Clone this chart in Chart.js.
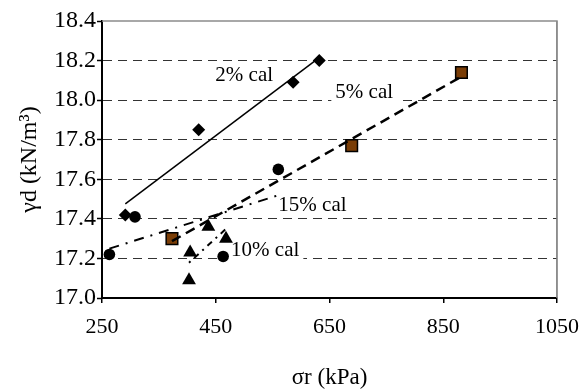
<!DOCTYPE html>
<html>
<head>
<meta charset="utf-8">
<script src="https://cdn.jsdelivr.net/npm/chart.js@4/dist/chart.umd.min.js"></script>
<style>
  body { margin: 0; background: #fff; }
</style>
</head>
<body>
<canvas id="grafico" width="580" height="392"></canvas>
<script>
// Datos (sigma_r en kPa, gamma_d en kN/m3)
const sigma2 = [291, 420, 586, 632];
const gamma2 = [17.42, 17.85, 18.09, 18.20];

const sigma5 = [373, 689, 882];
const gamma5 = [17.30, 17.77, 18.14];

const sigma10 = [403, 405, 437, 468];
const gamma10 = [17.09, 17.23, 17.36, 17.30];

const sigma15 = [263, 308, 463, 560];
const gamma15 = [17.22, 17.41, 17.21, 17.65];

const xTicks = [250, 450, 650, 850, 1050];
const yTicks = [17.0, 17.2, 17.4, 17.6, 17.8, 18.0, 18.2, 18.4];

const serie = ["2% cal", "5% cal", "10% cal", "15% cal"];

const fuente = "'Liberation Serif', 'Times New Roman', serif";

// Puntos {x, y}
const puntos = (xs, ys) => xs.map((x, i) => ({ x: x, y: ys[i] }));

// Recta de tendencia (minimos cuadrados) entre el x minimo y el maximo
function tendencia(xs, ys) {
  const n = xs.length;
  const mx = xs.reduce((a, b) => a + b, 0) / n;
  const my = ys.reduce((a, b) => a + b, 0) / n;
  let sxy = 0, sxx = 0;
  for (let i = 0; i < n; i++) {
    sxy += (xs[i] - mx) * (ys[i] - my);
    sxx += (xs[i] - mx) * (xs[i] - mx);
  }
  const m = sxy / sxx;
  const x0 = Math.min(...xs), x1 = Math.max(...xs);
  return [
    { x: x0, y: my + m * (x0 - mx) },
    { x: x1, y: my + m * (x1 - mx) },
  ];
}

// Etiquetas de cada serie (posicion en unidades del grafico)
const etiquetas = [
  { text: serie[0], x: 500, y: 18.125 },
  { text: serie[1], x: 711, y: 18.04 },
  { text: serie[3], x: 620, y: 17.47 },
  { text: serie[2], x: 537, y: 17.24 },
];

const textos = {
  id: "textos",
  beforeDatasetsDraw(chart) {
    const { ctx, chartArea, scales } = chart;
    ctx.save();
    // marco gris superior y derecho
    ctx.strokeStyle = "#8c8c8c";
    ctx.lineWidth = 1.5;
    ctx.beginPath();
    ctx.moveTo(chartArea.left, chartArea.top);
    ctx.lineTo(chartArea.right, chartArea.top);
    ctx.lineTo(chartArea.right, chartArea.bottom);
    ctx.stroke();

    ctx.font = "21px " + fuente;
    ctx.textAlign = "center";
    ctx.textBaseline = "middle";
    etiquetas.forEach((e) => {
      const px = scales.x.getPixelForValue(e.x);
      const py = scales.y.getPixelForValue(e.y);
      const w = ctx.measureText(e.text).width;
      ctx.fillStyle = "#fff";
      ctx.fillRect(px - w / 2 - 4, py - 10, w + 8, 22);
      ctx.fillStyle = "#000";
      ctx.fillText(e.text, px, py);
    });
    ctx.restore();
  },
};

const esExtremo = (v) => Math.abs(v - 17.0) < 1e-6 || Math.abs(v - 18.4) < 1e-6;

const ctx = document.getElementById("grafico");

const chart = new Chart(ctx, {
  type: "scatter",
  data: {
    datasets: [
      {
        label: serie[0] + " tendencia",
        data: tendencia(sigma2, gamma2),
        showLine: true,
        borderColor: "#000",
        borderWidth: 1.5,
        pointRadius: 0,
      },
      {
        label: serie[1] + " tendencia",
        data: tendencia(sigma5, gamma5),
        showLine: true,
        borderColor: "#000",
        borderWidth: 2.5,
        borderDash: [10, 6],
        pointRadius: 0,
      },
      {
        label: serie[2] + " tendencia",
        data: tendencia(sigma10, gamma10),
        showLine: true,
        borderColor: "#000",
        borderWidth: 2,
        borderDash: [2, 5, 6, 5],
        pointRadius: 0,
      },
      {
        label: serie[3] + " tendencia",
        data: tendencia(sigma15, gamma15),
        showLine: true,
        borderColor: "#000",
        borderWidth: 2,
        borderDash: [10, 7, 2, 7],
        pointRadius: 0,
      },
      {
        label: serie[0],
        data: puntos(sigma2, gamma2),
        pointStyle: "rectRot",
        pointRadius: 6.5,
        backgroundColor: "#000",
        borderColor: "#000",
        borderWidth: 0,
      },
      {
        label: serie[1],
        data: puntos(sigma5, gamma5),
        pointStyle: "rect",
        pointRadius: 8.2,
        backgroundColor: "#7a3d06",
        borderColor: "#000",
        borderWidth: 1.5,
      },
      {
        label: serie[2],
        data: puntos(sigma10, gamma10),
        pointStyle: "triangle",
        pointRadius: 8,
        backgroundColor: "#000",
        borderColor: "#000",
        borderWidth: 0,
      },
      {
        label: serie[3],
        data: puntos(sigma15, gamma15),
        pointStyle: "circle",
        pointRadius: 5.8,
        backgroundColor: "#000",
        borderColor: "#000",
        borderWidth: 0,
      },
    ],
  },
  options: {
    responsive: false,
    animation: false,
    layout: { padding: { left: 0, top: 21, right: 23, bottom: 0 } },
    plugins: {
      legend: { display: false },
      tooltip: { enabled: false },
    },
    scales: {
      x: {
        type: "linear",
        min: xTicks[0],
        max: xTicks[xTicks.length - 1],
        afterBuildTicks: (scale) => {
          scale.ticks = xTicks.map((v) => ({ value: v }));
        },
        afterFit: (scale) => {
          scale.height = 94;
          scale.paddingLeft = 0;
          scale.paddingRight = 0;
        },
        ticks: {
          color: "#000",
          font: { family: fuente, size: 22 },
          padding: 11,
          maxRotation: 0,
          callback: (v) => String(v),
        },
        grid: {
          color: (c) => (c.tick && c.tick.value === 1050 ? "#8c8c8c" : "rgba(0,0,0,0)"),
          tickColor: "#000",
          tickLength: 5,
          lineWidth: 1.5,
          tickWidth: 1.5,
        },
        border: { color: "#000", width: 2 },
        title: {
          display: true,
          text: "σr (kPa)",
          color: "#000",
          font: { family: fuente, size: 23 },
          padding: { top: 1, bottom: 0 },
        },
      },
      y: {
        type: "linear",
        min: yTicks[0],
        max: yTicks[yTicks.length - 1],
        afterBuildTicks: (scale) => {
          scale.ticks = yTicks.map((v) => ({ value: v }));
        },
        afterFit: (scale) => {
          scale.width = 102;
          scale.paddingTop = 0;
          scale.paddingBottom = 0;
        },
        ticks: {
          color: "#000",
          font: { family: fuente, size: 24 },
          padding: 1,
          callback: (v) => Number(v).toFixed(1),
        },
        grid: {
          color: (c) => (c.tick && esExtremo(c.tick.value) ? "rgba(0,0,0,0)" : "#333"),
          tickColor: "#000",
          tickLength: 5,
          lineWidth: 1,
          tickWidth: 1.5,
        },
        border: { color: "#000", width: 2, dash: [9, 6] },
        title: {
          display: true,
          text: "γd (kN/m³)",
          color: "#000",
          font: { family: fuente, size: 24 },
          padding: { top: 15, bottom: 0 },
        },
      },
    },
  },
  plugins: [textos],
});
</script>
</body>
</html>
